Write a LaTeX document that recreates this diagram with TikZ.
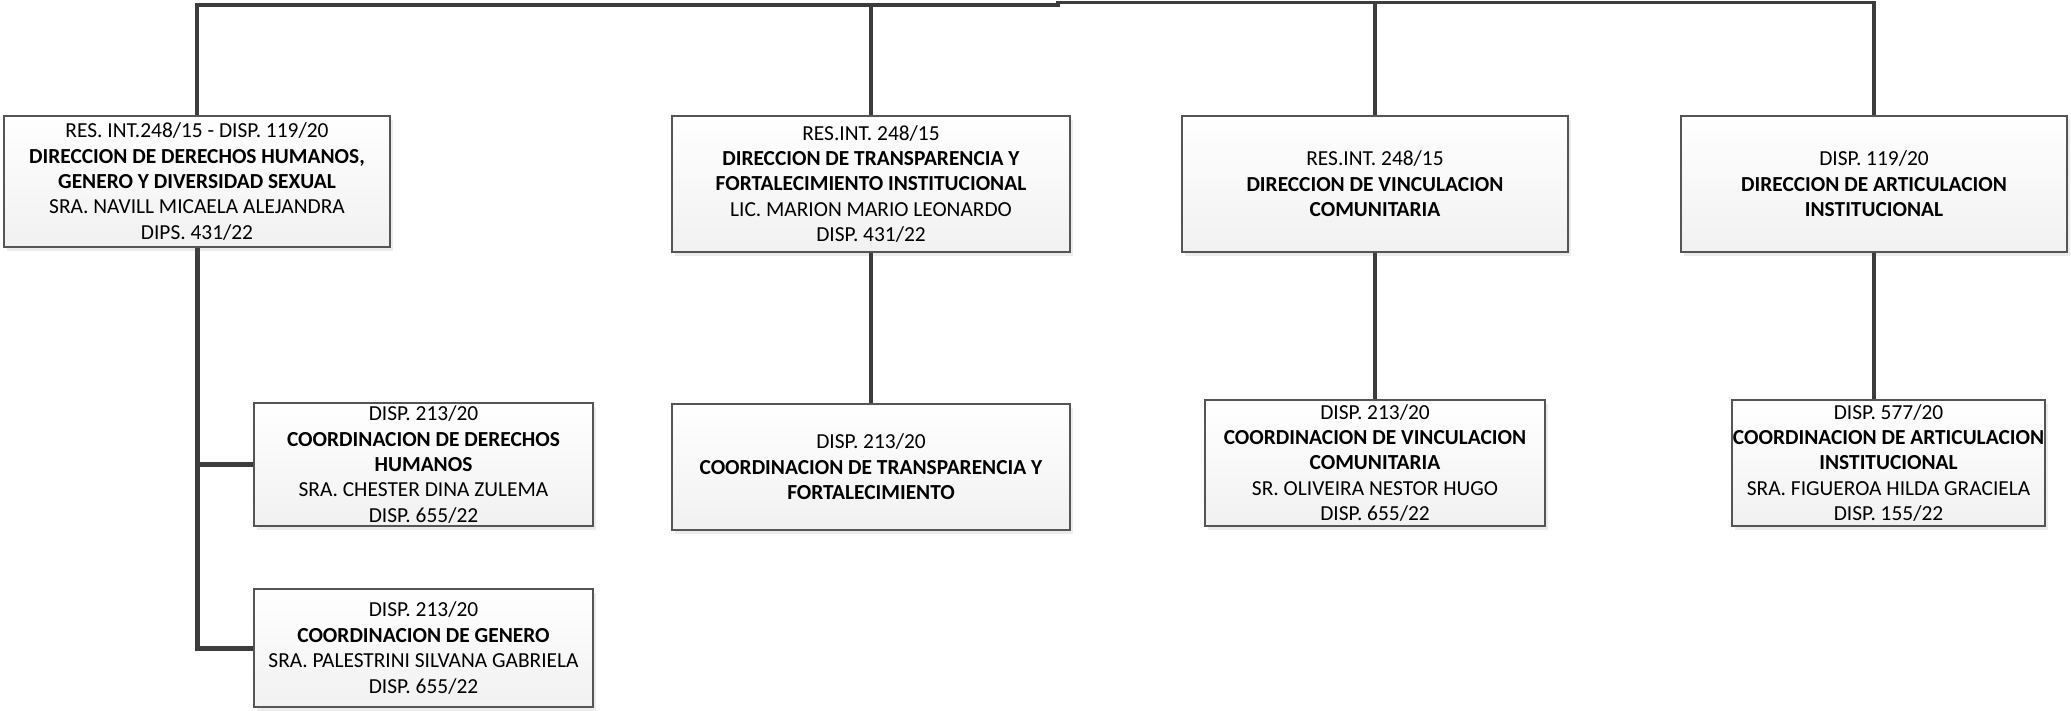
\documentclass[tikz,border=0pt]{standalone}
\usepackage{fontspec}
\setmainfont{Carlito}
\usetikzlibrary{shadows}
\definecolor{boxborder}{HTML}{555555}
\definecolor{linec}{HTML}{3C3C3C}
\begin{document}
\begin{tikzpicture}[x=1pt,y=1pt,
  orgbox/.style={draw=boxborder, line width=1.2pt, top color=white, bottom color=gray!11,
    inner sep=0pt, align=center, font=\fontsize{21.4}{25.4}\selectfont,
    drop shadow={shadow xshift=2.5pt, shadow yshift=-3.5pt, fill=gray!30}},
  conn/.style={draw=linec, line width=3.2pt},
  thickconn/.style={draw=linec, line width=5pt}]
\useasboundingbox (0,0) rectangle (2071,-710);

\node[orgbox, minimum width=386pt, minimum height=131pt] (A) at (197,-181.5)
  {RES. INT.248/15 - DISP. 119/20\\\textbf{DIRECCION DE DERECHOS HUMANOS,}\\\textbf{GENERO Y DIVERSIDAD SEXUAL}\\SRA. NAVILL MICAELA ALEJANDRA\\DIPS. 431/22};
\node[orgbox, minimum width=339pt, minimum height=123pt] (A1) at (423.5,-464.5)
  {DISP. 213/20\\\textbf{COORDINACION DE DERECHOS}\\\textbf{HUMANOS}\\SRA. CHESTER DINA ZULEMA\\DISP. 655/22};
\node[orgbox, minimum width=339pt, minimum height=118pt] (A2) at (423.5,-648)
  {DISP. 213/20\\\textbf{COORDINACION DE GENERO}\\SRA. PALESTRINI SILVANA GABRIELA\\DISP. 655/22};
\node[orgbox, minimum width=398pt, minimum height=136pt] (B) at (871,-184)
  {RES.INT. 248/15\\\textbf{DIRECCION DE TRANSPARENCIA Y}\\\textbf{FORTALECIMIENTO INSTITUCIONAL}\\LIC. MARION MARIO LEONARDO\\DISP. 431/22};
\node[orgbox, minimum width=398pt, minimum height=126pt] (B1) at (871,-467)
  {DISP. 213/20\\\textbf{COORDINACION DE TRANSPARENCIA Y}\\\textbf{FORTALECIMIENTO}};
\node[orgbox, minimum width=386pt, minimum height=136pt] (C) at (1375,-184)
  {RES.INT. 248/15\\\textbf{DIRECCION DE VINCULACION}\\\textbf{COMUNITARIA}};
\node[orgbox, minimum width=340pt, minimum height=126pt] (C1) at (1375,-463)
  {DISP. 213/20\\\textbf{COORDINACION DE VINCULACION}\\\textbf{COMUNITARIA}\\SR. OLIVEIRA NESTOR HUGO\\DISP. 655/22};
\node[orgbox, minimum width=386pt, minimum height=136pt] (D) at (1874,-184)
  {DISP. 119/20\\\textbf{DIRECCION DE ARTICULACION}\\\textbf{INSTITUCIONAL}};
\node[orgbox, minimum width=313pt, minimum height=126pt] (D1) at (1888.5,-463)
  {DISP. 577/20\\\textbf{COORDINACION DE ARTICULACION}\\\textbf{INSTITUCIONAL}\\SRA. FIGUEROA HILDA GRACIELA\\DISP. 155/22};

\coordinate (tl) at (1058,-5);
\coordinate (tr) at (1058,-2.5);

\draw[conn] (A.north) -- (A.north |- tl) -- (tl) -- (tr) -- (D.north |- tr) -- (D.north);
\draw[conn] (B.north) -- (B.north |- tl);
\draw[conn] (C.north) -- (C.north |- tr);

\draw[thickconn] (A.south) -- (A.south |- A2.west) -- (A2.west);
\draw[thickconn] (A.south |- A1.west) -- (A1.west);

\draw[conn] (B.south) -- (B1.north);
\draw[conn] (C.south) -- (C1.north);
\draw[conn] (D.south) -- (D.south |- D1.north);
\end{tikzpicture}
\end{document}
